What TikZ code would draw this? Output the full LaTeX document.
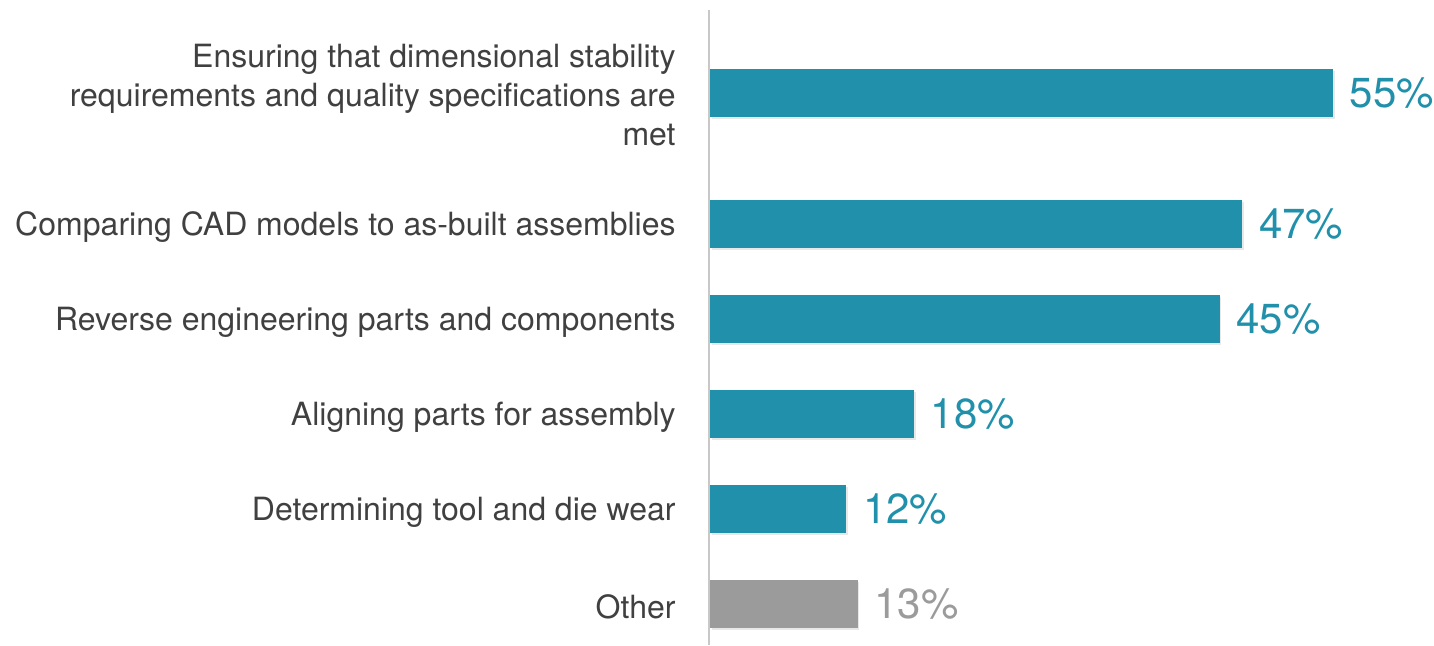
\documentclass[tikz,border=0pt]{standalone}
\usepackage{fontspec}
\setmainfont{TeX Gyre Heros}
\usetikzlibrary{positioning,shadows}
\definecolor{barteal}{HTML}{2190AB}
\definecolor{bargray}{HTML}{9B9B9B}
\definecolor{labgray}{HTML}{404040}
\definecolor{axisgray}{HTML}{C8C8C8}
\begin{document}
\begin{tikzpicture}[x=0.5pt,y=-0.5pt,
        bar/.style={fill=barteal,draw=none,minimum height=24pt,inner sep=0pt,
            anchor=west,drop shadow={opacity=0.18,shadow xshift=0.8pt,shadow yshift=-0.8pt}},
        cat/.style={anchor=east,align=right,text=labgray,inner sep=0pt,
            font=\fontsize{16}{19.5}\selectfont},
        pct/.style={text=barteal,inner sep=0pt,font=\fontsize{21}{21}\selectfont}]
    \useasboundingbox (0,0) rectangle (1434,645);
	\draw[color=axisgray, line width=1pt] (709,10) -- (709,645);

	% bars, one per answer
	\foreach \n/\v/\y in {1/55/93, 2/47/224, 3/45/319, 4/18/414, 5/12/509} {
	    \node[bar, minimum width=\v*11.32*0.5pt] (bar\n) at (710,\y) {};
	    \node[pct, right=8pt of bar\n] (pct\n) {\v\%};
	}
	\node[bar, fill=bargray, minimum width=13*11.32*0.5pt] (bar6) at (710,604) {};
	\node[pct, text=bargray, right=8pt of bar6] (pct6) {13\%};

	\node[cat] (cat1) at (676,95) {Ensuring that dimensional stability\\
	    requirements and quality specifications are\\ met};
	\node[cat] (cat2) at (676,227) {Comparing CAD models to as-built assemblies};
	\node[cat] (cat3) at (676,322) {Reverse engineering parts and components};
	\node[cat] (cat4) at (676,417) {Aligning parts for assembly};
	\node[cat] (cat5) at (676,512) {Determining tool and die wear};
	\node[cat] (cat6) at (676,607) {Other};
\end{tikzpicture}
\end{document}
